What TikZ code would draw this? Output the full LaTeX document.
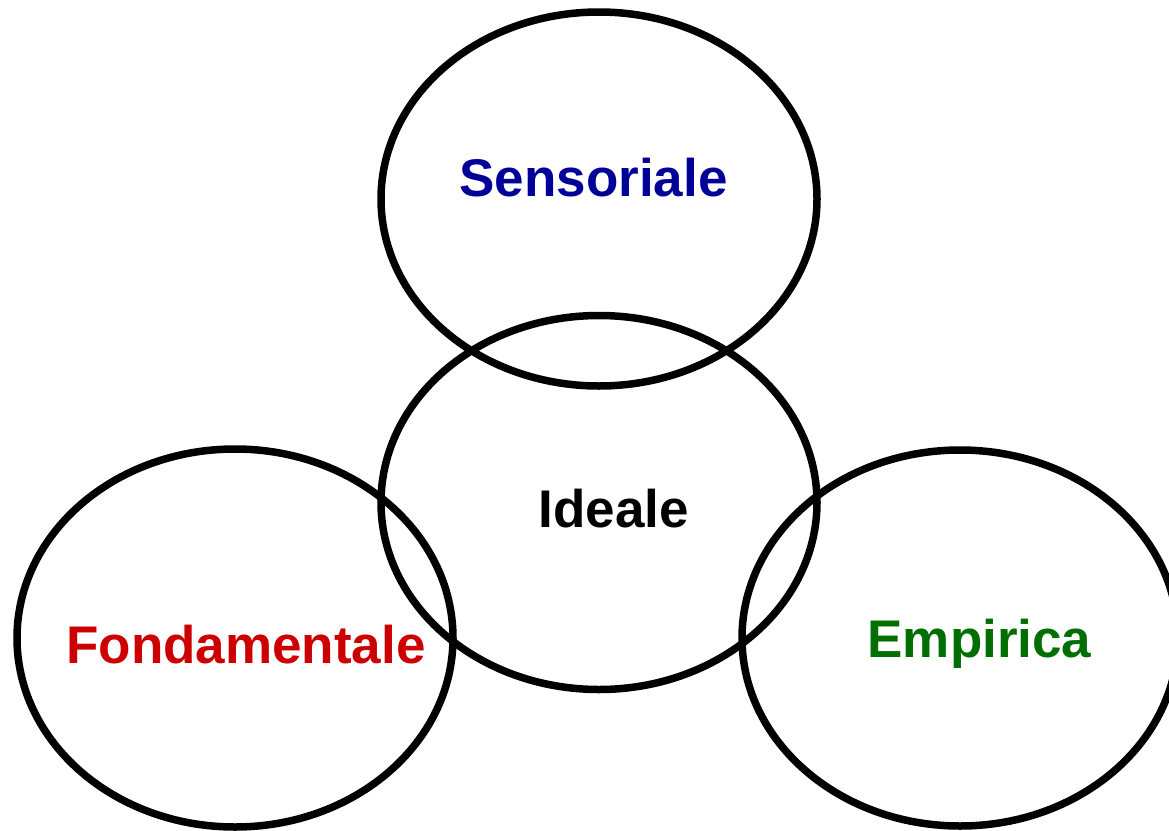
\documentclass[tikz,border=0pt]{standalone}
\usepackage{fontspec}
\setmainfont{Liberation Sans}
\definecolor{sensblue}{RGB}{0,0,153}
\definecolor{fondred}{RGB}{204,0,0}
\definecolor{empgreen}{RGB}{0,110,0}
\begin{document}
\begin{tikzpicture}[x=1pt,y=-1pt,
  ring/.style={draw=black,line width=7.5pt},
  lbl/.style={font=\fontsize{53}{60}\selectfont\bfseries,inner sep=0pt,anchor=base}]
\useasboundingbox (0,0) rectangle (1169,830);
% four overlapping rings
\draw[ring] (599,199) ellipse [x radius=218, y radius=187];
\draw[ring] (599,502.5) ellipse [x radius=218, y radius=187];
\draw[ring] (235,638) ellipse [x radius=218, y radius=189];
\draw[ring] (960,638) ellipse [x radius=218, y radius=188];
% labels
\node[lbl,text=sensblue] (sens) at (593.5,196) {Sensoriale};
\node[lbl,text=black] (ideale) at (614,527) {Ideale};
\node[lbl,text=fondred] (fond) at (246,663) {Fondamentale};
\node[lbl,text=empgreen] (emp) at (979.5,657) {Empirica};
\end{tikzpicture}
\end{document}
